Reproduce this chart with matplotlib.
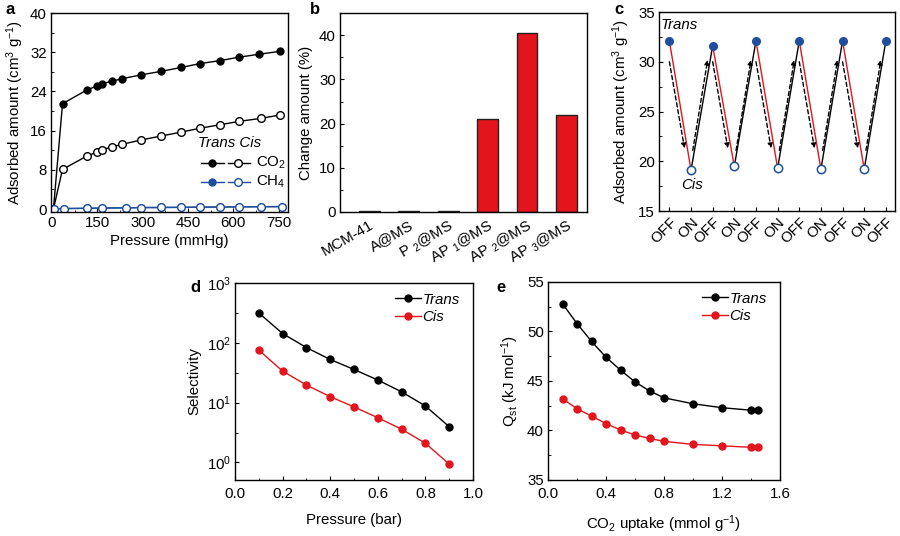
import numpy as np
import matplotlib
matplotlib.use('Agg')
import matplotlib.pyplot as plt
from matplotlib.ticker import MultipleLocator, FixedLocator, NullFormatter

plt.rcParams['font.family'] = ['Liberation Sans', 'DejaVu Sans']
plt.rcParams['mathtext.fontset'] = 'custom'
plt.rcParams['mathtext.rm'] = 'Liberation Sans'
plt.rcParams['mathtext.it'] = 'Liberation Sans:italic'
plt.rcParams['font.size'] = 10.8
plt.rcParams['axes.linewidth'] = 1.0
plt.rcParams['xtick.direction'] = 'in'
plt.rcParams['ytick.direction'] = 'in'
plt.rcParams['xtick.major.size'] = 3
plt.rcParams['ytick.major.size'] = 3
plt.rcParams['xtick.minor.size'] = 1.8
plt.rcParams['ytick.minor.size'] = 1.8
plt.rcParams['xtick.major.pad'] = 3
plt.rcParams['ytick.major.pad'] = 3

RED = '#e3141c'
BLUE = '#1f4e9e'

# ---- panel a: isotherms
co2_p = [5, 35, 115, 148, 166, 199, 231, 295, 360, 427, 490, 555, 619, 684, 755]
co2_trans = [0.0, 21.5, 24.3, 25.1, 25.6, 26.1, 26.6, 27.4, 28.1, 28.9, 29.7, 30.3, 31.0, 31.6, 32.2]
co2_p_cis = [5, 35, 115, 148, 166, 199, 231, 295, 360, 427, 490, 555, 619, 690, 755]
co2_cis = [0.0, 8.1, 10.8, 11.6, 12.1, 12.7, 13.2, 14.1, 14.9, 15.7, 16.5, 17.2, 17.9, 18.5, 19.2]
ch4_p = [8, 40, 115, 166, 245, 295, 360, 427, 490, 555, 619, 690, 761]
ch4_trans = [0.05, 0.1, 0.15, 0.2, 0.25, 0.3, 0.32, 0.35, 0.38, 0.42, 0.45, 0.48, 0.5]
ch4_cis = [0.05, 0.1, 0.15, 0.2, 0.25, 0.3, 0.32, 0.35, 0.38, 0.42, 0.45, 0.48, 0.5]

# ---- panel b: change amount
samples = ['MCM-41', 'A@MS', 'P $_2$@MS', 'AP $_1$@MS', 'AP $_2$@MS', 'AP $_3$@MS']
change = [0.3, 0.3, 0.3, 21.0, 40.5, 22.0]
bar_colors = ['#222222', '#222222', '#222222', RED, RED, RED]

# ---- panel c: switching cycles
states = ['OFF', 'ON', 'OFF', 'ON', 'OFF', 'ON', 'OFF', 'ON', 'OFF', 'ON', 'OFF']
cycle_vals = [32.1, 19.1, 31.6, 19.5, 32.1, 19.3, 32.1, 19.2, 32.1, 19.2, 32.1]

# ---- panel d: selectivity
sel_p = [0.1, 0.2, 0.3, 0.4, 0.5, 0.6, 0.7, 0.8, 0.9]
sel_trans = [316, 143, 83.5, 52.7, 35.9, 23.9, 15.2, 8.8, 3.98]
sel_cis = [75.5, 33.7, 19.7, 12.6, 8.5, 5.6, 3.6, 2.1, 0.94]

# ---- panel e: Qst
uptake = [0.1, 0.2, 0.3, 0.4, 0.5, 0.6, 0.7, 0.8, 1.0, 1.2, 1.4, 1.45]
qst_trans = [52.8, 50.8, 49.0, 47.4, 46.1, 44.9, 44.0, 43.3, 42.7, 42.3, 42.05, 42.05]
qst_cis = [43.2, 42.2, 41.45, 40.7, 40.05, 39.55, 39.2, 38.9, 38.6, 38.45, 38.3, 38.3]

fig = plt.figure(figsize=(9, 5.36), dpi=100)

# ================= a
ax = fig.add_axes([0.0567, 0.6045, 0.263, 0.371])
ax.plot(co2_p, co2_trans, '-o', color='black', ms=5, lw=1)
ax.plot(co2_p_cis, co2_cis, '-o', color='black', ms=5.5, lw=1, mfc='white', mew=1)
ax.plot(ch4_p, ch4_trans, '-o', color=BLUE, ms=5, lw=1)
ax.plot(ch4_p, ch4_cis, '-o', color=BLUE, ms=5.5, lw=1, mfc='white', mew=1)
ax.set_xlim(-3, 780)
ax.set_ylim(-0.6, 40)
ax.set_xticks([0, 150, 300, 450, 600, 750])
ax.xaxis.set_minor_locator(MultipleLocator(75))
ax.set_yticks([0, 8, 16, 24, 32, 40])
ax.yaxis.set_minor_locator(MultipleLocator(4))
ax.set_xlabel('Pressure (mmHg)', labelpad=3)
ax.set_ylabel('Adsorbed amount (cm$^3$ g$^{-1}$)', labelpad=3)
# hand made legend
ax.text(0.62, 0.347, 'Trans Cis', transform=ax.transAxes, style='italic',
        va='center', ha='left')
for yy, col, lab in [(0.246, 'black', 'CO$_2$'), (0.151, BLUE, 'CH$_4$')]:
    ax.plot([0.633, 0.73], [yy, yy], color=col, lw=1, transform=ax.transAxes)
    ax.plot([0.747, 0.84], [yy, yy], color=col, lw=1, transform=ax.transAxes)
    ax.plot([0.679], [yy], 'o', color=col, ms=5, transform=ax.transAxes)
    ax.plot([0.789], [yy], 'o', color=col, ms=5.5, mfc='white', mew=1,
            transform=ax.transAxes)
    ax.text(0.865, yy, lab, transform=ax.transAxes, va='center', ha='left')

# ================= b
ax = fig.add_axes([0.3778, 0.6045, 0.2744, 0.371])
xb = np.arange(len(samples))
ax.bar(xb, change, width=0.53, color=bar_colors, edgecolor='#222222', lw=1)
ax.set_xlim(-0.74, 5.52)
ax.set_ylim(0, 45)
ax.set_yticks([0, 10, 20, 30, 40])
ax.yaxis.set_minor_locator(MultipleLocator(5))
ax.set_xticks(xb)
ax.set_xticklabels(samples, rotation=30, ha='right', rotation_mode='anchor')
ax.tick_params(axis='x', length=0, pad=4)
ax.set_ylabel('Change amount (%)', labelpad=4)

# ================= c
ax = fig.add_axes([0.7322, 0.6063, 0.2622, 0.3713])
xc = np.arange(len(states))
for i in range(len(xc) - 1):
    down = cycle_vals[i + 1] < cycle_vals[i]
    ax.plot(xc[i:i + 2], cycle_vals[i:i + 2], color=RED if down else 'black',
            lw=1, zorder=2)
    if down:
        start, end = (xc[i], 30.0), (xc[i] + 0.7, 21.3)
    else:
        start, end = (xc[i] + 0.08, 21.1), (xc[i] + 0.77, 30.2)
    ax.annotate('', xy=end, xytext=start,
                arrowprops=dict(arrowstyle='-|>', ls=(0, (3, 2)), lw=1,
                                color='black', mutation_scale=7,
                                shrinkA=0, shrinkB=0))
trans_idx = xc[::2]
cis_idx = xc[1::2]
ax.plot(trans_idx, [cycle_vals[i] for i in trans_idx], 'o', color=BLUE, ms=5.5, zorder=3)
ax.plot(cis_idx, [cycle_vals[i] for i in cis_idx], 'o', color=BLUE, ms=6,
        mfc='white', mew=1.1, zorder=3)
ax.text(-0.38, 33.7, 'Trans', style='italic', va='center', ha='left')
ax.text(0.55, 17.6, 'Cis', style='italic', va='center', ha='left')
ax.set_xlim(-0.48, 10.42)
ax.set_ylim(15, 35)
ax.set_yticks([15, 20, 25, 30, 35])
ax.yaxis.set_minor_locator(MultipleLocator(2.5))
ax.set_xticks(xc)
ax.set_xticklabels(states, rotation=45, ha='right', rotation_mode='anchor')
ax.set_ylabel('Adsorbed amount (cm$^3$ g$^{-1}$)', labelpad=4)

# ================= d
ax = fig.add_axes([0.2611, 0.1045, 0.2644, 0.3675])
ax.plot(sel_p, sel_trans, '-o', color='black', ms=5, lw=1, label='Trans')
ax.plot(sel_p, sel_cis, '-o', color=RED, ms=5, lw=1, label='Cis')
ax.set_yscale('log')
ax.set_ylim(0.51, 1000)
ax.set_xlim(0, 1)
ax.set_yticks([1, 10, 100, 1000])
ax.yaxis.set_minor_locator(FixedLocator([10 ** 0.5, 10 ** 1.5, 10 ** 2.5]))
ax.yaxis.set_minor_formatter(NullFormatter())
ax.set_xticks([0, 0.2, 0.4, 0.6, 0.8, 1.0])
ax.xaxis.set_minor_locator(MultipleLocator(0.1))
ax.set_xlabel('Pressure (bar)', labelpad=9)
ax.set_ylabel('Selectivity', labelpad=4)
ax.tick_params(axis='x', pad=5)
ax.legend(frameon=False, loc='upper right', bbox_to_anchor=(1.0, 1.02),
          handlelength=1.7, handletextpad=0.1, labelspacing=0.25,
          prop={'style': 'italic', 'size': 10.8})

# ================= e
ax = fig.add_axes([0.6089, 0.1045, 0.2578, 0.3694])
ax.plot(uptake, qst_trans, '-o', color='black', ms=5, lw=1, label='Trans')
ax.plot(uptake, qst_cis, '-o', color=RED, ms=5, lw=1, label='Cis')
ax.set_xlim(0, 1.6)
ax.set_ylim(35, 55)
ax.set_xticks([0, 0.4, 0.8, 1.2, 1.6])
ax.xaxis.set_minor_locator(MultipleLocator(0.2))
ax.set_yticks([35, 40, 45, 50, 55])
ax.yaxis.set_minor_locator(MultipleLocator(2.5))
ax.set_xlabel('CO$_2$ uptake (mmol g$^{-1}$)', labelpad=9)
ax.set_ylabel('Q$_{\\rm st}$ (kJ mol$^{-1}$)', labelpad=4)
ax.tick_params(axis='x', pad=5)
ax.legend(frameon=False, loc='upper right', bbox_to_anchor=(1.0, 1.02),
          handlelength=1.7, handletextpad=0.1, labelspacing=0.25,
          prop={'style': 'italic', 'size': 10.8})

# panel letters
for lx, ly, s in [(5, 10, 'a'), (310, 10, 'b'), (614, 10, 'c'), (190, 288, 'd'), (496, 288, 'e')]:
    fig.text(lx / 900, 1 - ly / 536, s, fontsize=12, fontweight='bold', va='center')

fig.savefig('out.png', dpi=100)
